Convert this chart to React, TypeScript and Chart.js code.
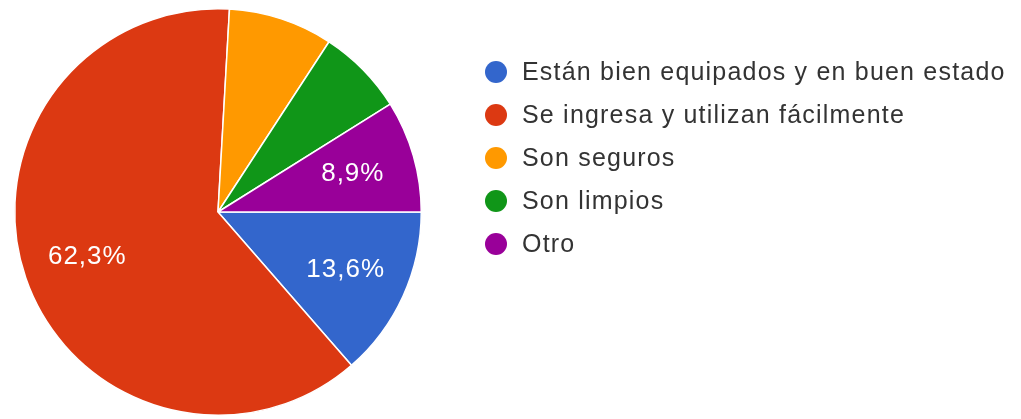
import React, { useEffect, useRef } from "react";
import { Chart, registerables } from "chart.js";

Chart.register(...registerables);

const categories = [
  "Están bien equipados y en buen estado",
  "Se ingresa y utilizan fácilmente",
  "Son seguros",
  "Son limpios",
  "Otro",
];
const percentages = [13.6, 62.3, 8.3, 6.9, 8.9];
const sliceColors = ["#3366CC", "#DC3912", "#FF9900", "#109618", "#990099"];
const labelThreshold = 8.5;

const FONT = '"Liberation Sans", Arial, sans-serif';

const sliceLabels = {
  id: "sliceLabels",
  afterDatasetsDraw(chart: any) {
    const ctx = chart.ctx;
    const meta = chart.getDatasetMeta(0);
    const values = chart.data.datasets[0].data as number[];
    ctx.save();
    ctx.fillStyle = "#ffffff";
    ctx.font = `26px ${FONT}`;
    (ctx as any).letterSpacing = "1px";
    ctx.textAlign = "center";
    ctx.textBaseline = "middle";
    meta.data.forEach((arc: any, i: number) => {
      const v = values[i];
      if (v < labelThreshold) return;
      const { x, y, startAngle, endAngle, outerRadius } = arc.getProps(
        ["x", "y", "startAngle", "endAngle", "outerRadius"],
        true
      );
      const mid = (startAngle + endAngle) / 2;
      const r = outerRadius * 0.685;
      ctx.fillText(v.toFixed(1).replace(".", ",") + "%", x + Math.cos(mid) * r + 1, y + Math.sin(mid) * r);
    });
    ctx.restore();
  },
};

const customLegend = {
  id: "customLegend",
  afterDraw(chart: any) {
    const ctx = chart.ctx;
    const labels = chart.data.labels as string[];
    const colors = chart.data.datasets[0].backgroundColor as string[];
    const x0 = 496;
    const y0 = 72;
    const step = 43;
    ctx.save();
    ctx.font = `25px ${FONT}`;
    (ctx as any).letterSpacing = "1.2px";
    ctx.textBaseline = "middle";
    ctx.textAlign = "left";
    labels.forEach((lab, i) => {
      const y = y0 + i * step;
      ctx.beginPath();
      ctx.arc(x0, y, 11, 0, Math.PI * 2);
      ctx.fillStyle = colors[i];
      ctx.fill();
      ctx.fillStyle = "#333333";
      ctx.fillText(lab, x0 + 26, y + 1);
    });
    ctx.restore();
  },
};

export default function App() {
  const ref = useRef<HTMLCanvasElement | null>(null);
  useEffect(() => {
    if (!ref.current) return;
    const chart = new Chart(ref.current, {
      type: "pie",
      data: {
        labels: categories,
        datasets: [
          {
            data: percentages,
            backgroundColor: sliceColors,
            borderColor: "#ffffff",
            borderWidth: 1.5,
          },
        ],
      },
      options: {
        animation: false,
        responsive: false,
        rotation: 90,
        layout: { padding: { left: 14, top: 8, right: 599, bottom: 3 } },
        plugins: {
          legend: { display: false },
          tooltip: { enabled: false },
        },
      },
      plugins: [sliceLabels, customLegend],
    });
    return () => chart.destroy();
  }, []);
  return (
    <div style={{ position: "fixed", left: 0, top: 0, width: 1021, height: 419, background: "#fff" }}>
      <canvas ref={ref} width={1021} height={419} style={{ width: 1021, height: 419 }} />
    </div>
  );
}
